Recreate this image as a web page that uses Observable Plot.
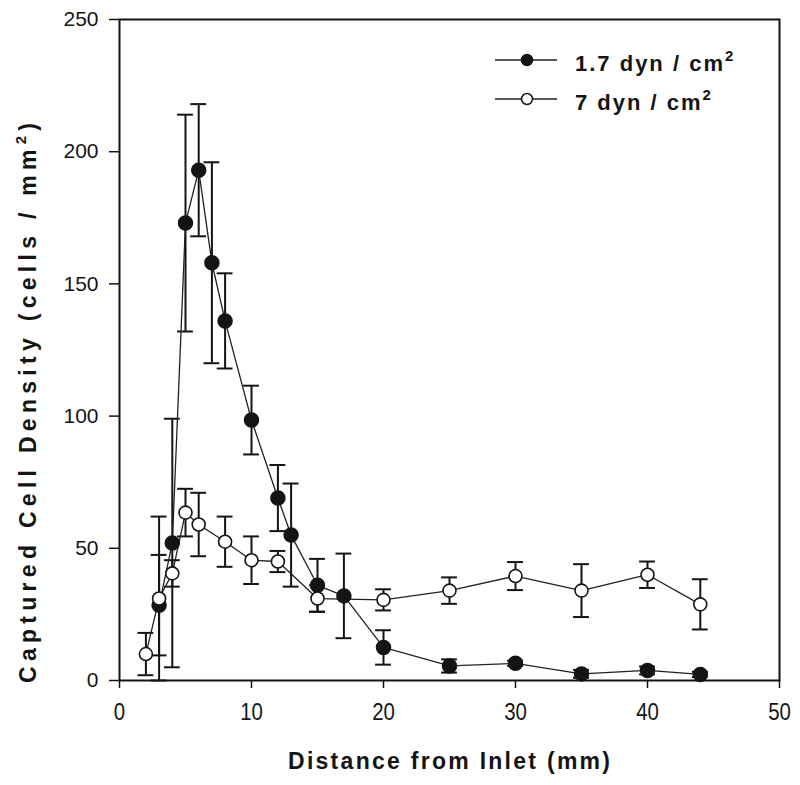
<!DOCTYPE html>
<html>
<head>
<meta charset="utf-8">
<script src="https://cdn.jsdelivr.net/npm/d3@7"></script>
<script src="https://cdn.jsdelivr.net/npm/@observablehq/plot@0.6"></script>
<style>
  html, body { margin: 0; padding: 0; background: #fff; }
  #wrap { position: relative; width: 800px; height: 785px; }
  #overlay { position: absolute; left: 0; top: 0; }
</style>
</head>
<body>
<div id="wrap"></div>
<script>
// ---- data ----
const lowShearX   = [3, 4, 5, 6, 7, 8, 10, 12, 13, 15, 17, 20, 25, 30, 35, 40, 44];
const lowShearY   = [28.5, 52, 173, 193, 158, 136, 98.5, 69, 55, 36, 32, 12.5, 5.5, 6.5, 2.5, 3.8, 2.3];
const lowShearErr = [19, 47, 41, 25, 38, 18, 13, 12.5, 19.5, 10, 16, 6.5, 2.5, 1, 1.5, 1.5, 1];

const highShearX   = [2, 3, 4, 5, 6, 8, 10, 12, 15, 20, 25, 30, 35, 40, 44];
const highShearY   = [10, 31, 40.5, 63.5, 59, 52.5, 45.5, 45, 31, 30.5, 34, 39.5, 34, 40, 28.8];
const highShearErr = [8, 31, 5, 9, 12, 9.5, 9, 4, 5, 4, 5, 5.3, 10, 5, 9.5];

const xTicks = [0, 10, 20, 30, 40, 50];
const yTicks = [0, 50, 100, 150, 200, 250];
const xTitle = "Distance from Inlet (mm)";
const yTitle = "Captured Cell Density (cells / mm";
const seriesNames = ["1.7 dyn / cm", "7 dyn / cm"];

// ---- build tables ----
const low = lowShearX.map((x, i) => ({x, y: lowShearY[i], e: lowShearErr[i]}));
const high = highShearX.map((x, i) => ({x, y: highShearY[i], e: highShearErr[i]}));
const caps = rows => rows.flatMap(d => [{x: d.x, y: d.y + d.e}, {x: d.x, y: Math.max(0, d.y - d.e)}]);
const capHalf = 0.6;
const ink = "#141414";
const font = "'Liberation Sans', Arial, sans-serif";

const errMarks = rows => [
  Plot.ruleX(rows, {x: "x", y1: d => Math.max(0, d.y - d.e), y2: d => d.y + d.e, stroke: ink, strokeWidth: 2}),
  Plot.ruleY(caps(rows), {y: "y", x1: d => d.x - capHalf, x2: d => d.x + capHalf, stroke: ink, strokeWidth: 2})
];

const chart = Plot.plot({
  width: 800,
  height: 785,
  marginLeft: 119,
  marginRight: 21,
  marginTop: 19,
  marginBottom: 105,
  x: {domain: [0, 50]},
  y: {domain: [0, 250]},
  style: {fontFamily: font, background: "#fff", color: ink, overflow: "visible"},
  marks: [
    Plot.axisY({ticks: yTicks, tickSize: 10, tickPadding: 11, label: null, fontSize: 21, strokeWidth: 1.5}),
    Plot.axisX({ticks: xTicks, tickSize: 8, tickPadding: 14, label: null, fontSize: 24, strokeWidth: 1.5}),
    Plot.frame({stroke: ink, strokeWidth: 2}),
    ...errMarks(low),
    ...errMarks(high),
    Plot.line(low, {x: "x", y: "y", stroke: "#222", strokeWidth: 1.3}),
    Plot.line(high, {x: "x", y: "y", stroke: "#222", strokeWidth: 1.3}),
    Plot.dot(low, {x: "x", y: "y", r: 7, fill: ink, stroke: ink}),
    Plot.dot(high, {x: "x", y: "y", r: 6.5, fill: "#fff", stroke: ink, strokeWidth: 1.6})
  ]
});

// condensed look of the x tick labels
d3.select(chart).selectAll('g[aria-label="x-axis tick label"] text').each(function() {
  const t = this.getAttribute("transform");
  if (t) this.setAttribute("transform", t + " scale(0.85,1)");
});

document.getElementById("wrap").appendChild(chart);

// ---- overlay: axis titles and legend ----
const ov = d3.select("#wrap").append("svg")
  .attr("id", "overlay").attr("width", 800).attr("height", 785)
  .style("font-family", font);

ov.append("text")
  .attr("x", 449).attr("y", 769)
  .attr("text-anchor", "middle")
  .attr("font-size", 23).attr("font-weight", "bold").attr("fill", ink)
  .attr("textLength", 322).attr("lengthAdjust", "spacing")
  .text(xTitle);

const yt = ov.append("text")
  .attr("transform", "translate(36,403) rotate(-90)")
  .attr("text-anchor", "middle")
  .attr("font-size", 23).attr("font-weight", "bold").attr("fill", ink)
  .attr("textLength", 560).attr("lengthAdjust", "spacing");
yt.append("tspan").text(yTitle);
yt.append("tspan").attr("dy", -10).attr("font-size", 15).text("2");
yt.append("tspan").attr("dy", 10).text(")");

const rowsY = [60, 99];
seriesNames.forEach((name, i) => {
  const g = ov.append("g").attr("transform", `translate(0,${rowsY[i]})`);
  g.append("line").attr("x1", 495).attr("x2", 557).attr("y1", 0).attr("y2", 0)
    .attr("stroke", "#222").attr("stroke-width", 1.5);
  g.append("circle").attr("cx", 527).attr("cy", 0).attr("r", 5.5)
    .attr("fill", i === 0 ? ink : "#fff").attr("stroke", ink).attr("stroke-width", 1.5);
  const t = g.append("text").attr("x", 575).attr("y", 11)
    .attr("font-size", 22).attr("font-weight", "bold").attr("fill", ink)
    .style("letter-spacing", "2px");
  t.append("tspan").text(name);
  t.append("tspan").attr("dy", -10).attr("font-size", 15).text("2");
});
</script>
</body>
</html>
